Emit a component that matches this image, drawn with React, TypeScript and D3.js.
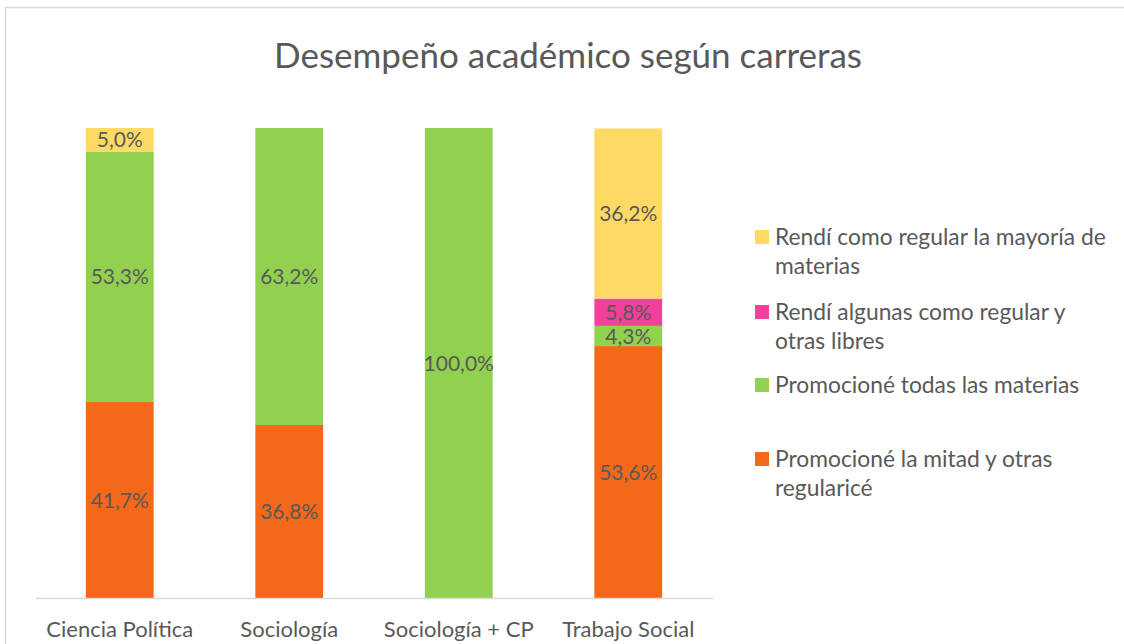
import { useRef, useEffect } from 'react';
import * as d3 from 'd3';

const carreras = ['Ciencia Política', 'Sociología', 'Sociología + CP', 'Trabajo Social'];

// porcentajes por carrera, de abajo hacia arriba en cada barra
const promMitad = [41.7, 36.8, 0, 53.6];
const promTodas = [53.3, 63.2, 100, 4.3];
const algunasLibres = [0, 0, 0, 5.8];
const regularMayoria = [5.0, 0, 0, 36.2];

const series = [
  { key: 'promMitad', values: promMitad, color: '#F4681A', legend: ['Promocioné la mitad y otras', 'regularicé'] },
  { key: 'promTodas', values: promTodas, color: '#92D050', legend: ['Promocioné todas las materias'] },
  { key: 'algunasLibres', values: algunasLibres, color: '#F2419A', legend: ['Rendí algunas como regular y', 'otras libres'] },
  { key: 'regularMayoria', values: regularMayoria, color: '#FFD966', legend: ['Rendí como regular la mayoría de', 'materias'] },
];

const width = 1124;
const height = 644;
const font = 'Lato, "Noto Sans", sans-serif';
const textColor = '#595959';

export default function App() {
  const ref = useRef<SVGSVGElement>(null);

  useEffect(() => {
    if (!ref.current) return;
    const svg = d3.select(ref.current);
    svg.selectAll('*').remove();

    const rows = carreras.map((c, i) => {
      const r: { [k: string]: any } = { carrera: c };
      series.forEach((s) => (r[s.key] = s.values[i]));
      return r;
    });

    const x = d3.scaleBand().domain(carreras).range([35, 713]).paddingInner(0.6).paddingOuter(0.3);
    const y = d3.scaleLinear().domain([0, 100]).range([598, 128]);

    const stacked = d3.stack<any>().keys(series.map((s) => s.key))(rows);

    // marco
    svg
      .append('rect')
      .attr('x', 5.5)
      .attr('y', 7.5)
      .attr('width', width + 20)
      .attr('height', height + 20)
      .attr('fill', '#fff')
      .attr('stroke', '#d9d9d9')
      .attr('stroke-width', 1.5);

    // título
    svg
      .append('text')
      .attr('x', 568)
      .attr('y', 68)
      .attr('text-anchor', 'middle')
      .style('font-family', font)
      .style('font-size', '35px')
      .attr('fill', textColor)
      .text('Desempeño académico según carreras');

    // barras
    const layers = svg
      .append('g')
      .selectAll('g')
      .data(stacked)
      .enter()
      .append('g')
      .attr('fill', (_d, i) => series[i].color);

    layers
      .selectAll('rect')
      .data((d) => d.filter((p) => p[1] - p[0] > 0))
      .enter()
      .append('rect')
      .attr('x', (d) => x(d.data.carrera)!)
      .attr('y', (d) => y(d[1]))
      .attr('width', x.bandwidth())
      .attr('height', (d) => y(d[0]) - y(d[1]));

    // etiquetas
    layers
      .selectAll('text')
      .data((d) => d.filter((p) => p[1] - p[0] > 0))
      .enter()
      .append('text')
      .attr('x', (d) => x(d.data.carrera)! + x.bandwidth() / 2)
      .attr('y', (d) => (y(d[0]) + y(d[1])) / 2)
      .attr('dy', '0.36em')
      .attr('text-anchor', 'middle')
      .style('font-family', font)
      .style('font-size', '21px')
      .attr('fill', textColor)
      .text((d) => (d[1] - d[0]).toFixed(1).replace('.', ',') + '%');

    // eje x
    const axis = svg
      .append('g')
      .attr('transform', `translate(0,${y(0)})`)
      .call(d3.axisBottom(x).tickSize(0).tickPadding(23));
    axis.select('.domain').attr('stroke', '#d9d9d9').attr('stroke-width', 1.5);
    axis
      .selectAll('text')
      .style('font-family', font)
      .style('font-size', '22px')
      .attr('fill', textColor);

    // leyenda
    const legendRows = [
      { s: series[3], cy: 237 },
      { s: series[2], cy: 312 },
      { s: series[1], cy: 385 },
      { s: series[0], cy: 459 },
    ];
    const legend = svg.append('g');
    legendRows.forEach(({ s, cy }) => {
      legend
        .append('rect')
        .attr('x', 755)
        .attr('y', cy - 7)
        .attr('width', 14)
        .attr('height', 14)
        .attr('fill', s.color);
      const t = legend
        .append('text')
        .attr('x', 775)
        .attr('y', cy + 8)
        .style('font-family', font)
        .style('font-size', '22.8px')
        .attr('fill', textColor);
      s.legend.forEach((line, i) => {
        t.append('tspan').attr('x', 775).attr('dy', i === 0 ? 0 : 29).text(line);
      });
    });
  }, []);

  return (
    <svg
      ref={ref}
      width={width}
      height={height}
      style={{ position: 'absolute', left: 0, top: 0, background: '#fff' }}
    />
  );
}
